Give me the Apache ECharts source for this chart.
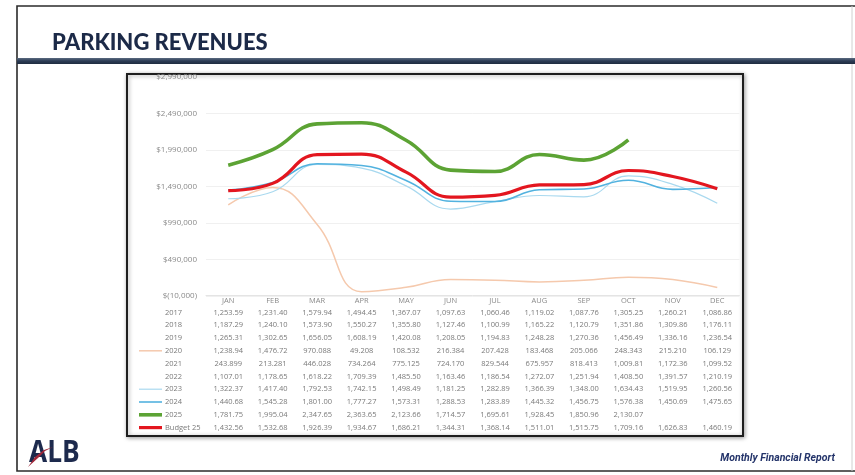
<!DOCTYPE html>
<html>
<head>
<meta charset="utf-8">
<script src="https://cdn.jsdelivr.net/npm/echarts@6/dist/echarts.min.js"></script>
<style>
  html, body { margin: 0; padding: 0; background: #fff; }
  #c { width: 855px; height: 475px; }
</style>
</head>
<body>
<div id="c"></div>
<script>
// Monthly parking revenue, in thousands of dollars
const months = ['JAN', 'FEB', 'MAR', 'APR', 'MAY', 'JUN', 'JUL', 'AUG', 'SEP', 'OCT', 'NOV', 'DEC'];

const rev2017 = [1253.59, 1231.40, 1579.94, 1494.45, 1367.07, 1097.63, 1060.46, 1119.02, 1087.76, 1305.25, 1260.21, 1086.86];
const rev2018 = [1187.29, 1240.10, 1573.90, 1550.27, 1355.80, 1127.46, 1100.99, 1165.22, 1120.79, 1351.86, 1309.86, 1176.11];
const rev2019 = [1265.31, 1302.65, 1656.05, 1608.19, 1420.08, 1208.05, 1194.83, 1248.28, 1270.36, 1456.49, 1336.16, 1236.54];
const rev2020 = [1238.94, 1476.72, 970.088, 49.208, 108.532, 216.384, 207.428, 183.468, 205.066, 248.343, 215.210, 106.129];
const rev2021 = [243.899, 213.281, 446.028, 734.264, 775.125, 724.170, 829.544, 675.957, 818.413, 1009.81, 1172.36, 1099.52];
const rev2022 = [1107.01, 1178.65, 1618.22, 1709.39, 1485.50, 1163.46, 1186.54, 1272.07, 1251.94, 1408.50, 1391.57, 1210.19];
const rev2023 = [1322.37, 1417.40, 1792.53, 1742.15, 1498.49, 1181.25, 1282.89, 1366.39, 1348.00, 1634.43, 1519.95, 1260.56];
const rev2024 = [1440.68, 1545.28, 1801.00, 1777.27, 1573.31, 1288.53, 1283.89, 1445.32, 1456.75, 1576.38, 1450.69, 1475.65];
const rev2025 = [1781.75, 1995.04, 2347.65, 2363.65, 2123.66, 1714.57, 1695.61, 1928.45, 1850.96, 2130.07, null, null];
const budget25 = [1432.56, 1532.68, 1926.39, 1934.67, 1686.21, 1344.31, 1368.14, 1511.01, 1515.75, 1709.16, 1626.83, 1460.19];

const rowNames = ['2017', '2018', '2019', '2020', '2021', '2022', '2023', '2024', '2025', 'Budget 25'];
const rowValues = [rev2017, rev2018, rev2019, rev2020, rev2021, rev2022, rev2023, rev2024, rev2025, budget25];

// y axis: dollars, ticks every 500,000 starting at -10,000
const yMin = -10000, yMax = 2990000, yStep = 500000;

// line styles for the rows that are plotted (index into rowNames)
const plotted = [
  { row: 3, color: '#f5c9ad', width: 1.5 },
  { row: 6, color: '#a9d9ef', width: 1.2 },
  { row: 7, color: '#52b2df', width: 1.6 },
  { row: 8, color: '#5ca334', width: 3.6 },
  { row: 9, color: '#e3161f', width: 3.2 }
];

const FONT = 'Open Sans';
const GREY = '#7a7a7a';

function fmtCell(v) {
  if (v == null) return '\u00a0';
  if (v < 1000) return v.toFixed(3);
  const th = Math.floor(v / 1000);
  const rest = (v - th * 1000).toFixed(2).padStart(6, '0');
  return th + ',' + rest;
}

function fmtDollar(v) {
  const s = Math.abs(v).toString().replace(/\B(?=(\d{3})+(?!\d))/g, ',');
  return v < 0 ? '$(' + s + ')' : '$' + s;
}

const ROW_H = 12.8, HEAD_H = 10;

const chart = echarts.init(document.getElementById('c'), null, { renderer: 'canvas' });

chart.setOption({
  animation: false,
  backgroundColor: '#fff',
  grid: { left: 206, right: 115.5, top: 77, bottom: 179, containLabel: false },
  xAxis: {
    type: 'category',
    data: months,
    boundaryGap: true,
    axisLine: { show: true, lineStyle: { color: '#e4e4e4', width: 1 } },
    axisTick: { show: false },
    axisLabel: {
      interval: 0,
      margin: 0,
      fontFamily: FONT,
      formatter: function (val, idx) {
        const lines = ['{m|' + val + '}'];
        rowValues.forEach(r => lines.push('{v|' + fmtCell(r[idx]) + '}'));
        return lines.join('\n');
      },
      rich: {
        m: { fontFamily: FONT, fontSize: 7.5, color: '#8a8a8a', lineHeight: HEAD_H },
        v: { fontFamily: FONT, fontSize: 7.5, color: GREY, lineHeight: ROW_H }
      }
    }
  },
  yAxis: {
    type: 'value',
    min: yMin,
    max: yMax,
    interval: yStep,
    axisLine: { show: false },
    axisTick: { show: false },
    splitLine: { lineStyle: { color: '#f0f0f0', width: 1 } },
    axisLabel: {
      margin: 9,
      fontFamily: FONT,
      fontSize: 8,
      color: '#8a8a8a',
      formatter: fmtDollar
    }
  },
  series: plotted.map(p => ({
    name: rowNames[p.row],
    type: 'line',
    smooth: 0.45,
    symbol: 'none',
    connectNulls: false,
    lineStyle: { color: p.color, width: p.width },
    itemStyle: { color: p.color },
    data: rowValues[p.row].map(v => (v == null ? null : v * 1000))
  }))
});

// frame, title, table row headers and footer
const axisY = chart.convertToPixel({ yAxisIndex: 0 }, yMin);
const firstRowY = axisY + HEAD_H + ROW_H / 2;

const graphics = [
  // slide frame
  { type: 'polyline', silent: true, shape: { points: [[855, 6], [17, 6], [17, 471], [855, 471]] },
    style: { stroke: '#2b2b2b', lineWidth: 1.6, fill: null } },
  { type: 'line', silent: true, shape: { x1: 852, y1: 6, x2: 852, y2: 471 },
    style: { stroke: '#d0d0d0', lineWidth: 1 } },
  // title
  { type: 'text', silent: true, x: 52, y: 43,
    style: { text: 'PARKING REVENUES', fill: '#1c2a48', font: '900 22px Lato', textVerticalAlign: 'middle' } },
  // band under the title
  { type: 'rect', silent: true, shape: { x: 17, y: 58, width: 838, height: 6 },
    style: { fill: new echarts.graphic.LinearGradient(0, 0, 0, 1, [
      { offset: 0, color: '#5a6a80' }, { offset: 0.5, color: '#2c3c55' }, { offset: 1, color: '#1f2c40' }]) } },
  // chart box
  { type: 'rect', silent: true, z: -1, shape: { x: 127, y: 74, width: 616, height: 362 },
    style: { fill: '#fff', stroke: '#1e1e1e', lineWidth: 2,
      shadowBlur: 4, shadowColor: 'rgba(0,0,0,0.35)', shadowOffsetX: 1, shadowOffsetY: 1 } },
  // footer logo
  { type: 'text', silent: true, x: 29, y: 453, scaleX: 0.85,
    style: { text: 'ALB', fill: '#1d2a4d', font: 'bold 31px "Open Sans"', textVerticalAlign: 'middle' } },
  { type: 'polygon', silent: true,
    shape: { points: [[28, 467], [35, 457], [44, 450], [53, 447], [45, 451], [38, 458]] },
    style: { fill: '#a0283a' } },
  // footer caption
  { type: 'text', silent: true, x: 835, y: 458,
    style: { text: 'Monthly Financial Report', fill: '#24346a', font: 'italic bold 10.5px "Liberation Sans Narrow", Roboto',
      textAlign: 'right', textVerticalAlign: 'middle' } }
];

rowNames.forEach((name, i) => {
  const y = firstRowY + i * ROW_H;
  graphics.push({ type: 'text', silent: true, x: 165, y: y,
    style: { text: name, fill: GREY, font: '7.5px "Open Sans"', textVerticalAlign: 'middle' } });
});

plotted.forEach(p => {
  const y = firstRowY + p.row * ROW_H;
  graphics.push({ type: 'line', silent: true, shape: { x1: 139, y1: y, x2: 162, y2: y },
    style: { stroke: p.color, lineWidth: p.width } });
});

chart.setOption({ graphic: graphics });
</script>
</body>
</html>
